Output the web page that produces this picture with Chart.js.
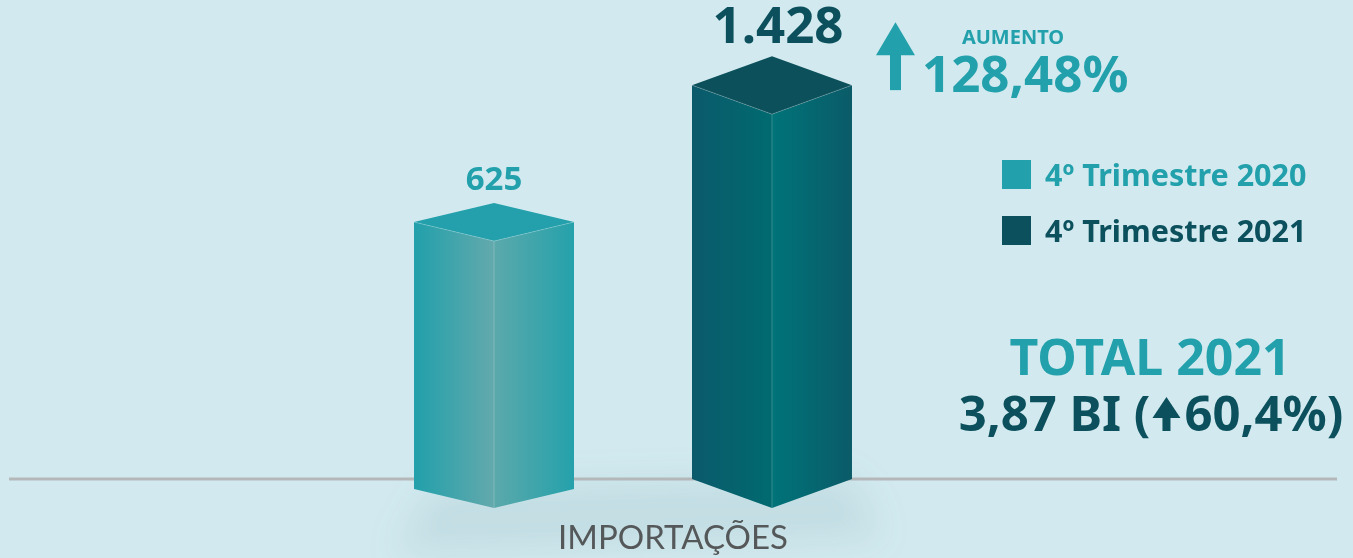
<!DOCTYPE html>
<html>
<head>
<meta charset="utf-8">
<script src="https://cdn.jsdelivr.net/npm/chart.js@4.4.0/dist/chart.umd.min.js"></script>
<style>
  html, body { margin: 0; padding: 0; background: #d2eaef; }
  #wrap { width: 1353px; height: 558px; }
</style>
</head>
<body>
<div id="wrap"><canvas id="importChart"></canvas></div>
<script>
// data
const categories = ['IMPORTAÇÕES'];
const seriesNames = ['4º Trimestre 2020', '4º Trimestre 2021'];
const values2020 = [625];
const values2021 = [1428];
const valueLabels2020 = ['625'];
const valueLabels2021 = ['1.428'];
const growthTitle = 'AUMENTO';
const growthText = '128,48%';
const totalTitle = 'TOTAL 2021';
const totalPre = '3,87 BI (';
const totalPost = '60,4%)';

const LIGHT = '#22a0ab';
const DARK = '#0b505c';
const FONT = '"Noto Sans", Lato, sans-serif';
const AXIS_FONT = 'Lato, sans-serif';

// 3d look for each dataset
const faces = [
  { left: ['#21a0ab', '#63a9ac'], right: ['#5ba9ab', '#25a1ab'], top: '#23a0ab', depth: 19 },
  { left: ['#0b5a6b', '#006a70'], right: ['#007379', '#0a5b68'], top: '#0b505b', depth: 29 }
];

function upArrow(ctx, x, y, w, headH, shaftW, h) {
  ctx.beginPath();
  ctx.moveTo(x, y + headH);
  ctx.lineTo(x + w / 2, y);
  ctx.lineTo(x + w, y + headH);
  ctx.closePath();
  ctx.fill();
  ctx.fillRect(x + (w - shaftW) / 2, y + headH - 1, shaftW, h - headH + 1);
}

const bars3d = {
  id: 'bars3d',
  beforeDatasetsDraw(chart) {
    const { ctx, chartArea } = chart;
    const m0 = chart.getDatasetMeta(0).data[0];
    const m1 = chart.getDatasetMeta(1).data[0];
    // soft shadow under bars
    ctx.save();
    ctx.filter = 'blur(18px)';
    ctx.fillStyle = 'rgba(60, 110, 125, 0.10)';
    ctx.beginPath();
    ctx.moveTo(m0.x - m0.width / 2 + 20, m0.base - 20);
    ctx.lineTo(m1.x + m1.width / 2, m1.base - 30);
    ctx.lineTo(m1.x + m1.width / 2 + 30, m1.base + 30);
    ctx.lineTo(m0.x - m0.width / 2 - 20, m0.base + 45);
    ctx.closePath();
    ctx.fill();
    ctx.restore();
    // baseline
    ctx.save();
    ctx.strokeStyle = '#b4b8b9';
    ctx.lineWidth = 3;
    ctx.beginPath();
    ctx.moveTo(chartArea.left, chartArea.bottom);
    ctx.lineTo(chart.width - 16, chartArea.bottom);
    ctx.stroke();
    ctx.restore();
  },
  afterDatasetsDraw(chart) {
    const { ctx } = chart;
    chart.data.datasets.forEach((ds, i) => {
      const f = faces[i];
      const d = f.depth;
      chart.getDatasetMeta(i).data.forEach((bar, j) => {
        const x = bar.x, y = bar.y, b = bar.base, w = bar.width / 2;
        ctx.save();
        // left face
        let g = ctx.createLinearGradient(x - w, 0, x, 0);
        g.addColorStop(0, f.left[0]);
        g.addColorStop(1, f.left[1]);
        ctx.fillStyle = g;
        ctx.beginPath();
        ctx.moveTo(x - w, y - d);
        ctx.lineTo(x, y);
        ctx.lineTo(x, b);
        ctx.lineTo(x - w, b - d);
        ctx.closePath();
        ctx.fill();
        // right face
        g = ctx.createLinearGradient(x, 0, x + w, 0);
        g.addColorStop(0, f.right[0]);
        g.addColorStop(1, f.right[1]);
        ctx.fillStyle = g;
        ctx.beginPath();
        ctx.moveTo(x, y);
        ctx.lineTo(x + w, y - d);
        ctx.lineTo(x + w, b - d);
        ctx.lineTo(x, b);
        ctx.closePath();
        ctx.fill();
        // top face
        ctx.fillStyle = f.top;
        ctx.beginPath();
        ctx.moveTo(x - w, y - d);
        ctx.lineTo(x, y - 2 * d);
        ctx.lineTo(x + w, y - d);
        ctx.lineTo(x, y);
        ctx.closePath();
        ctx.fill();
        // light edges
        ctx.strokeStyle = 'rgba(255,255,255,0.2)';
        ctx.lineWidth = 1;
        ctx.beginPath();
        ctx.moveTo(x - w, y - d);
        ctx.lineTo(x, y);
        ctx.lineTo(x + w, y - d);
        ctx.moveTo(x, y);
        ctx.lineTo(x, b);
        ctx.stroke();
        // value label
        ctx.fillStyle = ds.labelColor;
        ctx.font = ds.labelFont;
        ctx.textAlign = 'center';
        ctx.textBaseline = 'alphabetic';
        ctx.fillText(ds.valueLabels[j], x + (i === 1 ? 6 : 0), y - 2 * d - 13);
        ctx.restore();
      });
    });
  },
  afterDraw(chart) {
    const { ctx } = chart;
    ctx.save();
    // growth arrow next to the 2021 bar
    const bar = chart.getDatasetMeta(1).data[0];
    ctx.fillStyle = LIGHT;
    upArrow(ctx, bar.x + bar.width / 2 + 24, bar.y - 92, 39, 33, 11, 68);

    ctx.textBaseline = 'alphabetic';
    ctx.textAlign = 'center';
    ctx.font = 'bold 20px ' + FONT;
    ctx.fillText(growthTitle, 1013, 44);
    ctx.textAlign = 'left';
    ctx.font = 'bold 51px ' + FONT;
    ctx.fillText(growthText, 922, 92);

    // legend
    chart.data.datasets.forEach((ds, i) => {
      const top = 160 + i * 56;
      ctx.fillStyle = ds.legendColor;
      ctx.fillRect(1002, top, 29, 29);
      ctx.font = 'bold 30.5px ' + FONT;
      ctx.textAlign = 'left';
      ctx.fillText(ds.label, 1045, top + 26);
    });

    // totals
    ctx.textAlign = 'center';
    ctx.fillStyle = LIGHT;
    ctx.font = 'bold 50px ' + FONT;
    ctx.fillText(totalTitle, 1150, 375);
    ctx.fillStyle = DARK;
    ctx.font = 'bold 49px ' + FONT;
    const wPre = ctx.measureText(totalPre).width;
    const wPost = ctx.measureText(totalPost).width;
    const gap = 34;
    const left = 1151 - (wPre + gap + wPost) / 2;
    ctx.textAlign = 'left';
    ctx.fillText(totalPre, left, 431);
    upArrow(ctx, left + wPre + 2, 397, 28, 21, 8, 34);
    ctx.fillText(totalPost, left + wPre + gap, 431);
    ctx.restore();
  }
};

new Chart(document.getElementById('importChart'), {
  type: 'bar',
  data: {
    labels: categories,
    datasets: [
      {
        label: seriesNames[0],
        data: values2020,
        valueLabels: valueLabels2020,
        labelColor: LIGHT,
        legendColor: '#22a0ab',
        labelFont: 'bold 33px ' + FONT,
        backgroundColor: 'transparent',
        base: -1063
      },
      {
        label: seriesNames[1],
        data: values2021,
        valueLabels: valueLabels2021,
        labelColor: DARK,
        legendColor: '#0b505c',
        labelFont: 'bold 51px ' + FONT,
        backgroundColor: 'transparent',
        base: -1063
      }
    ]
  },
  options: {
    responsive: true,
    maintainAspectRatio: false,
    animation: false,
    layout: {
      padding: { left: 9, right: 96, top: 0, bottom: 0 }
    },
    plugins: {
      legend: { display: false },
      tooltip: { enabled: false }
    },
    datasets: {
      bar: {
        categoryPercentage: 0.4455,
        barPercentage: 0.5755,
        clip: false
      }
    },
    scales: {
      x: {
        grid: { display: false, drawTicks: false },
        border: { display: false },
        ticks: {
          color: '#575757',
          font: { family: AXIS_FONT, size: 33 },
          padding: 40,
          labelOffset: 40
        },
        afterFit(scale) { scale.height = 79; }
      },
      y: {
        display: false,
        min: -880,
        max: 2150
      }
    }
  },
  plugins: [bars3d]
});
</script>
</body>
</html>
